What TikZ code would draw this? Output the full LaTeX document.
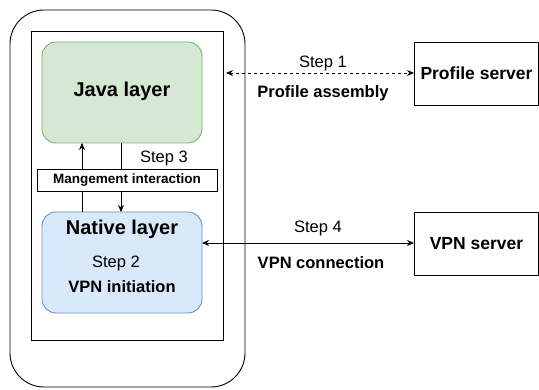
\documentclass[tikz,border=0pt]{standalone}
\usepackage{fontspec}
\setmainfont{Liberation Sans}
\usetikzlibrary{arrows.meta}
\definecolor{jfill}{HTML}{D5E8D4}
\definecolor{jdraw}{HTML}{82B366}
\definecolor{nfill}{HTML}{DAE8FC}
\definecolor{ndraw}{HTML}{6C8EBF}
\tikzset{
  ln/.style={line width=0.9pt, draw=black},
  arr/.style={ln, -{Stealth[length=7pt,width=6pt]}},
  darr/.style={ln, {Stealth[length=7pt,width=6pt]}-{Stealth[length=7pt,width=6pt]}},
  layer/.style={rounded corners=14pt, line width=0.9pt},
  srv/.style={draw, line width=0.9pt, minimum width=124pt, minimum height=63pt, inner sep=0pt, font=\fontsize{17.5}{20}\selectfont\bfseries},
  lbl/.style={inner sep=0pt, font=\fontsize{16.5}{19}\selectfont},
  blbl/.style={inner sep=0pt, font=\fontsize{16.5}{19}\selectfont\bfseries},
}
\begin{document}
\begin{tikzpicture}[x=1pt,y=-1pt]
\useasboundingbox (0,0) rectangle (539,390);
% phone
\draw[ln, rounded corners=34pt] (10,10) rectangle (245,387);
\draw[ln] (31,31) rectangle (223,340);
% layers
\draw[layer, fill=jfill, draw=jdraw] (42,42) rectangle (202,143);
\node[inner sep=0pt, font=\fontsize{20}{24}\selectfont\bfseries] (java) at (122,91) {Java layer};
\coordinate (jb1) at (82,143);
\coordinate (jb2) at (121,143);
\draw[layer, fill=nfill, draw=ndraw] (42,212) rectangle (202,313);
\node[inner sep=0pt, font=\fontsize{20}{24}\selectfont\bfseries] (native) at (122,229) {Native layer};
\node[lbl] (s2) at (116,263) {Step 2};
\node[blbl] (vi) at (122,287) {VPN initiation};
\coordinate (nt1) at (82,212);
\coordinate (nt2) at (121,212);
\coordinate (nr) at (202,243);
\coordinate (jr) at (226,73);
% arrows between layers
\draw[arr] (nt1) -- (jb1);
\draw[arr] (jb2) -- (nt2);
\node[draw, line width=0.9pt, fill=white, minimum width=180pt, minimum height=22pt, inner sep=0pt, font=\fontsize{13.5}{16}\selectfont\bfseries] (mi) at (127,180) {Mangement interaction};
\node[lbl] (s3) at (164,158) {Step 3};
% servers
\node[srv, anchor=west] (ps) at (414,73.5) {Profile server};
\node[srv, anchor=west] (vs) at (414,243.5) {VPN server};
\draw[darr, dash pattern=on 3pt off 3pt] (jr) -- (ps.west |- jr);
\node[lbl] (s1) at (323,63) {Step 1};
\node[blbl] (pa) at (323,93) {Profile assembly};
\draw[darr] (nr) -- (vs.west |- nr);
\node[lbl] (s4) at (318,228) {Step 4};
\node[blbl] (vc) at (321,263) {VPN connection};
\end{tikzpicture}
\end{document}
